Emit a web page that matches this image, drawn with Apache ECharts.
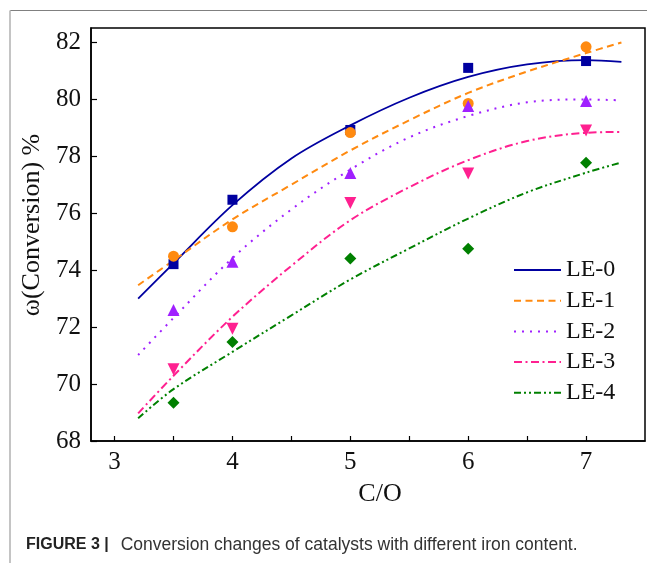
<!DOCTYPE html>
<html><head><meta charset="utf-8">
<script src="https://cdn.jsdelivr.net/npm/echarts@6/dist/echarts.min.js"></script>
<style>html,body{margin:0;padding:0;background:#fff}#c{width:647px;height:563px}</style>
</head><body><div id="c"></div>
<script>
// ---- data ----
const seriesNames = ['LE-0', 'LE-1', 'LE-2', 'LE-3', 'LE-4'];
const pointX = [3.5, 4, 5, 6, 7];
const le0Points = [74.21, 76.47, 78.92, 81.10, 81.34];
const le1Points = [74.49, 75.52, 78.83, 79.85, 81.84];
const le2Points = [72.60, 74.29, 77.41, 79.76, 79.94];
const le3Points = [70.52, 71.94, 76.36, 77.39, 78.90];
const le4Points = [69.34, 71.48, 74.41, 74.75, 77.77];

const curveX = [3.2, 3.5, 4, 4.5, 5, 5.5, 6, 6.5, 7, 7.3];
const le0Curve = [73.00, 74.24, 76.28, 77.92, 79.08, 80.05, 80.78, 81.22, 81.37, 81.31];
const le1Curve = [73.47, 74.34, 75.78, 77.00, 78.20, 79.26, 80.22, 80.97, 81.62, 81.99];
const le2Curve = [71.02, 72.32, 74.42, 76.13, 77.53, 78.66, 79.41, 79.89, 79.99, 79.96];
const le3Curve = [68.97, 70.29, 72.36, 74.15, 75.75, 76.91, 77.86, 78.53, 78.82, 78.85];
const le4Curve = [68.80, 69.82, 71.13, 72.41, 73.67, 74.76, 75.81, 76.73, 77.42, 77.78];

const xTickValues = [3, 3.5, 4, 4.5, 5, 5.5, 6, 6.5, 7];
const xLabelValues = [3, 4, 5, 6, 7];
const yTickValues = [68, 70, 72, 74, 76, 78, 80, 82];

const xAxisTitle = 'C/O';
const yAxisTitle = 'ω(Conversion) %';
const captionBold = 'FIGURE 3 |';
const captionText = 'Conversion changes of catalysts with different iron content.';

// ---- styles ----
const allPoints = [le0Points, le1Points, le2Points, le3Points, le4Points];
const allCurves = [le0Curve, le1Curve, le2Curve, le3Curve, le4Curve];
const colors = ['#0000A0', '#FF8A10', '#A020FF', '#FF2090', '#008000'];
const dashes = ['solid', [7, 4.5], [2, 6], [8, 3.5, 2, 3.5], [7, 3, 2, 3, 2, 3]];
const symbols = ['rect', 'circle', 'triangle', 'triangle', 'diamond'];
const symbolSizes = [10, 11, 12, 12, 12];
const symbolRotates = [0, 0, 0, 180, 0];
const serif = 'Liberation Serif, Times New Roman, serif';

const series = [];
seriesNames.forEach((name, i) => {
  series.push({
    type: 'line', name: name, smooth: 0.35, symbol: 'none', z: 2,
    data: curveX.map((x, k) => [x, allCurves[i][k]]),
    lineStyle: { color: colors[i], width: i === 0 ? 1.8 : 2, type: dashes[i] },
    itemStyle: { color: colors[i] }
  });
});
seriesNames.forEach((name, i) => {
  series.push({
    type: 'scatter', name: name + ' data', z: 3,
    symbol: symbols[i], symbolSize: symbolSizes[i], symbolRotate: symbolRotates[i],
    data: pointX.map((x, k) => [x, allPoints[i][k]]),
    itemStyle: { color: colors[i], opacity: 1 }
  });
});

const chart = echarts.init(document.getElementById('c'), null, { renderer: 'canvas' });
chart.setOption({
  animation: false,
  backgroundColor: '#fff',
  grid: { left: 91, top: 28, right: 2, bottom: 122, show: true, borderColor: '#000', borderWidth: 1.5, outerBoundsMode: 'none' },
  legend: {
    data: seriesNames, orient: 'vertical', left: 513, top: 258, padding: 0,
    itemWidth: 47, itemHeight: 14, itemGap: 6.7, selectedMode: false,
    itemStyle: { opacity: 0 },
    textStyle: { fontFamily: serif, fontSize: 24, color: '#111' }
  },
  xAxis: {
    type: 'value', min: 2.8, max: 7.5,
    name: xAxisTitle, nameLocation: 'middle', nameGap: 40,
    nameTextStyle: { fontFamily: serif, fontSize: 26, color: '#111', padding: [0, 0, 0, 24] },
    axisLine: { lineStyle: { color: '#000', width: 1.5 } },
    axisTick: { inside: true, length: 5, customValues: xTickValues, lineStyle: { color: '#000', width: 1.2 } },
    axisLabel: { customValues: xLabelValues, fontFamily: serif, fontSize: 25, color: '#111', margin: 9 },
    splitLine: { show: false }
  },
  yAxis: {
    type: 'value', min: 68, max: 82.5,
    name: yAxisTitle, nameLocation: 'middle', nameGap: 42,
    nameTextStyle: { fontFamily: serif, fontSize: 26, color: '#111', padding: [0, 0, 0, 19] },
    axisLine: { lineStyle: { color: '#000', width: 1.5 } },
    axisTick: { inside: true, length: 6, customValues: yTickValues, lineStyle: { color: '#000', width: 1.2 } },
    axisLabel: { customValues: yTickValues, fontFamily: serif, fontSize: 25, color: '#111', margin: 10 },
    splitLine: { show: false }
  },
  graphic: [
    { type: 'line', shape: { x1: 10, y1: 10.5, x2: 647, y2: 10.5 }, style: { stroke: '#808080', lineWidth: 1.2 }, silent: true },
    { type: 'line', shape: { x1: 10, y1: 10.5, x2: 10, y2: 563 }, style: { stroke: '#c4c4c4', lineWidth: 2 }, silent: true },
    {
      type: 'text', x: 26, y: 545, silent: true,
      style: {
        text: '{b|' + captionBold + '}{n|' + captionText + '}',
        verticalAlign: 'middle',
        rich: {
          b: { fontFamily: 'Liberation Sans, Arial, sans-serif', fontWeight: 'bold', fontSize: 16, fill: '#222' },
          n: { fontFamily: 'Liberation Sans, Arial, sans-serif', fontSize: 17.5, fill: '#333', padding: [0, 0, 0, 12] }
        }
      }
    }
  ],
  series: series
});
</script></body></html>
